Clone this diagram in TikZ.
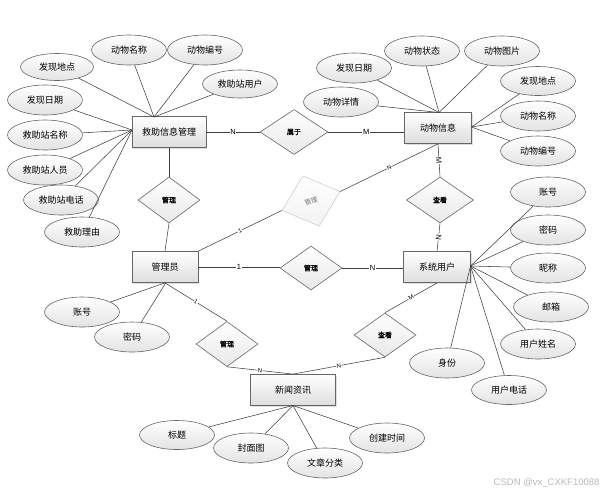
\documentclass[tikz,border=0pt]{standalone}
\usepackage{fontspec}
\setmainfont{Liberation Sans}
\newfontfamily\cjk{Noto Sans CJK SC}
\newfontfamily\cjkb[FakeBold=1.2]{Noto Sans CJK SC}
\usetikzlibrary{shapes.geometric,shadows}
\begin{document}
\begin{tikzpicture}[x=1pt,y=-1pt,
  ent/.style={rectangle, draw=black!60, line width=0.8pt, top color=white, bottom color=black!13,
    minimum height=31pt, inner sep=0pt, font=\cjk\fontsize{9}{10}\selectfont,
    drop shadow={opacity=0.25, shadow xshift=1.2pt, shadow yshift=-1.2pt}},
  attr/.style={ellipse, draw=black!60, line width=0.6pt, top color=white, bottom color=black!11,
    minimum width=75pt, minimum height=29pt, inner sep=0pt, font=\cjk\fontsize{9}{10}\selectfont},
  rel/.style={diamond, draw=black!60, line width=0.6pt, top color=white, bottom color=black!9,
    minimum width=62pt, minimum height=45pt, inner sep=0pt, font=\cjkb\fontsize{7}{8}\selectfont},
  faded/.style={diamond, draw=black!22, line width=0.5pt, top color=white, bottom color=black!5,
    inner sep=0pt, text=black!55, font=\cjk\fontsize{6.5}{7}\selectfont},
  conn/.style={draw=black!75, line width=0.55pt},
  lab/.style={fill=white, inner sep=0.6pt, font=\fontsize{7.5}{8}\selectfont},
  slab/.style={fill=white, inner sep=0.4pt, sloped, font=\fontsize{6}{7}\selectfont},
]
\useasboundingbox (0,0) rectangle (610,496);

% entities
\node[ent, minimum width=74pt] (jz) at (169,132) {救助信息管理};
\node[ent, minimum width=67pt] (dw) at (438,128) {动物信息};
\node[ent, minimum width=66pt] (gly) at (165,267) {管理员};
\node[ent, minimum width=67pt] (xt) at (437,267) {系统用户};
\node[ent, minimum width=85pt] (news) at (293,390) {新闻资讯};

% relationships
\node[rel, minimum width=68pt, minimum height=45pt] (shuyu) at (294,132) {属于};
\node[rel, minimum width=62pt, minimum height=46pt] (gl1) at (169,200) {管理};
\node[rel, minimum width=67pt, minimum height=46pt] (ck1) at (440,200) {查看};
\node[rel, minimum width=62pt, minimum height=44pt] (gl2) at (311,268) {管理};
\node[rel, minimum width=62pt, minimum height=45pt] (gl3) at (227,344) {管理};
\node[rel, minimum width=62pt, minimum height=44pt] (ck2) at (385,335) {查看};
\node[faded, rotate=18, minimum width=61pt, minimum height=53pt] (fd) at (311,201) {管理};

% convergence points
\coordinate (jzT) at (154,117);
\coordinate (jzL) at (132,130);
\coordinate (dwT) at (439,112.5);
\coordinate (dwR) at (471.5,127);
\coordinate (xtR) at (470.5,266);
\coordinate (glyB) at (166,282.5);
\coordinate (newsB) at (293,405.5);

% attributes of 救助信息管理
\node[attr, minimum width=73pt, minimum height=27pt] (jd1) at (57,67) {发现地点};
\node[attr, minimum height=30pt] (jd2) at (129,50) {动物名称};
\node[attr, minimum height=30pt] (jd3) at (205,50) {动物编号};
\node[attr, minimum height=28pt] (jd4) at (240,84) {救助站用户};
\node[attr, minimum height=30pt] (jd5) at (45,100) {发现日期};
\node[attr, minimum height=30pt] (jd6) at (45,135) {救助站名称};
\node[attr, minimum height=30pt] (jd7) at (45,170) {救助站人员};
\node[attr, minimum height=30pt] (jd8) at (61,200) {救助站电话};
\node[attr, minimum height=30pt] (jd9) at (82,232) {救助理由};
\foreach \a in {jd1,jd2,jd3,jd4} \draw[conn] (\a) -- (jzT);
\foreach \a in {jd5,jd6,jd7,jd8,jd9} \draw[conn] (\a) -- (jzL);

% attributes of 动物信息
\node[attr, minimum height=30pt] (dw1) at (422,51) {动物状态};
\node[attr, minimum height=30pt] (dw2) at (502,51) {动物图片};
\node[attr, minimum height=30pt] (dw3) at (354,68) {发现日期};
\node[attr, minimum height=30pt] (dw4) at (341,102) {动物详情};
\node[attr, minimum height=29pt] (dw5) at (538,81) {发现地点};
\node[attr, minimum height=30pt] (dw6) at (538,116) {动物名称};
\node[attr, minimum height=30pt] (dw7) at (538,151) {动物编号};
\foreach \a in {dw1,dw2,dw3,dw4} \draw[conn] (\a) -- (dwT);
\foreach \a in {dw5,dw6,dw7} \draw[conn] (\a) -- (dwR);

% attributes of 系统用户
\node[attr, minimum height=30pt] (xt1) at (548,192) {账号};
\node[attr, minimum height=30pt] (xt2) at (548,230) {密码};
\node[attr, minimum height=30pt] (xt3) at (548,268) {昵称};
\node[attr, minimum height=30pt] (xt4) at (551,307) {邮箱};
\node[attr, minimum height=30pt] (xt5) at (538,344) {用户姓名};
\node[attr, minimum height=30pt] (xt6) at (447,363) {身份};
\node[attr, minimum height=29pt] (xt7) at (509,390) {用户电话};
\foreach \a in {xt1,xt2,xt3,xt4,xt5,xt6,xt7} \draw[conn] (\a) -- (xtR);

% attributes of 管理员
\node[attr, minimum height=30pt] (g1) at (82,312) {账号};
\node[attr, minimum height=30pt] (g2) at (132,337) {密码};
\foreach \a in {g1,g2} \draw[conn] (\a) -- (glyB);

% attributes of 新闻资讯
\node[attr, minimum height=29pt] (n1) at (177,435) {标题};
\node[attr, minimum height=30pt] (n2) at (251,448) {封面图};
\node[attr, minimum height=30pt] (n3) at (325,463) {文章分类};
\node[attr, minimum height=30pt] (n4) at (387,438) {创建时间};
\foreach \a in {n1,n2,n3,n4} \draw[conn] (\a) -- (newsB);

% relationship connectors
\draw[conn] (jz.east) -- node[lab] {N} (shuyu.west);
\draw[conn] (shuyu.east) -- node[lab] {M} (shuyu.east -| dw.west);
\draw[conn] (jz.south) -- (gl1.north);
\draw[conn] (gl1.south) -- (gly.north);
\draw[conn] (dw.south) -- node[lab, sloped] {M} (ck1.north);
\draw[conn] (ck1.south) -- node[lab, sloped] {N} (xt.north);
\draw[conn] (gly.east) -- node[lab] {1} (gly.east -| gl2.west);
\draw[conn] (gl2.east) -- node[lab] {N} (gl2.east -| xt.west);
\draw[conn] (gly.north east) -- node[slab] {1} (fd.west);
\draw[conn] (fd.east) -- node[slab] {N} (dw.south);
\draw[conn] (gly.south) -- node[slab] {1} (gl3.north);
\draw[conn] (gl3.south) -- node[slab] {N} (news.north);
\draw[conn] (xt.south) -- node[slab] {M} (ck2.north);
\draw[conn] (ck2.south) -- node[slab] {N} (news.north);

% watermark
\node[anchor=east, text=black!28, font=\fontsize{9.5}{10}\selectfont] (wm) at (603,483) {CSDN @vx\_CXKF10088};
\end{tikzpicture}
\end{document}
